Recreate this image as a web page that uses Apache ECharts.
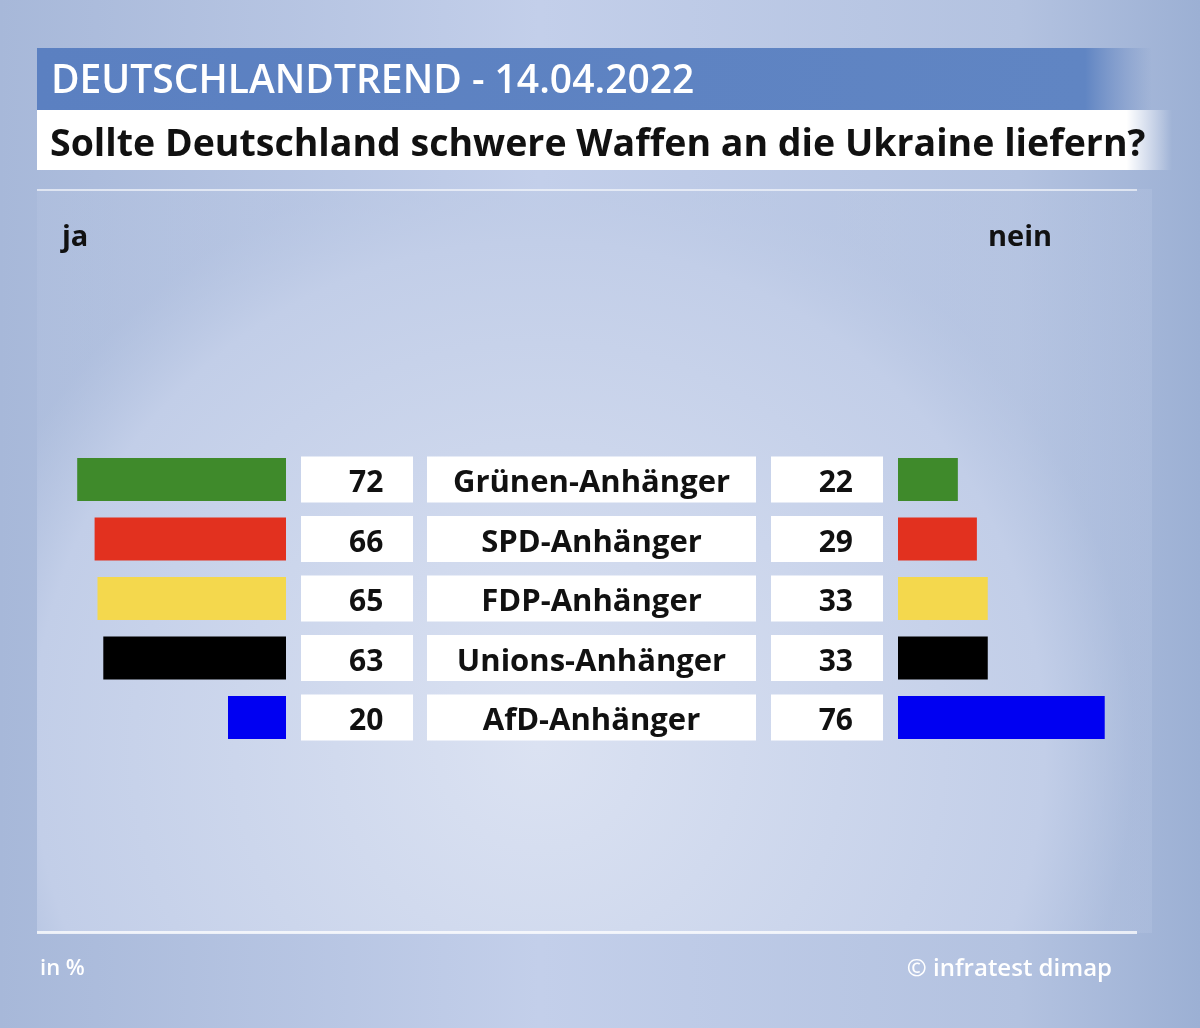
<!DOCTYPE html>
<html>
<head>
<meta charset="utf-8">
<title>DeutschlandTrend 14.04.2022</title>
<script src="https://cdn.jsdelivr.net/npm/echarts@6/dist/echarts.min.js"></script>
<style>
	html, body { margin: 0; padding: 0; }
	#main { width: 1200px; height: 1028px; }
</style>
</head>
<body>
<div id="main"></div>
<script>
// Daten aus der Grafik
var parteien = [ 'Grünen-Anhänger', 'SPD-Anhänger', 'FDP-Anhänger', 'Unions-Anhänger', 'AfD-Anhänger' ];
var ja = [ 72, 66, 65, 63, 20 ];
var nein = [ 22, 29, 33, 33, 76 ];
var farben = [ '#3f8a2b', '#e2311f', '#f4d84d', '#000000', '#0000f2' ];

var FONT = 'Open Sans';
var myChart = echarts.init(document.getElementById('main'));

function barData(values) {
	var arr = [];
	for ( var i = 0; i < values.length; i++) {
		arr.push({
			value : values[i],
			itemStyle : { color : farben[i] }
		});
	}
	return arr;
}

var option = {
	backgroundColor : {
		type : 'linear', x : 0, y : 0, x2 : 1, y2 : 0,
		colorStops : [ { offset : 0, color : '#a7b8d9' }, { offset : 0.45, color : '#c3cfea' },
				{ offset : 0.85, color : '#b3c2e0' }, { offset : 1, color : '#9cb0d4' } ]
	},
	graphic : [ {
		// heller Innenbereich
		type : 'rect',
		z : -10,
		shape : { x : 37, y : 189, width : 1115, height : 744 },
		style : {
			fill : {
				type : 'radial', x : 0.45, y : 0.75, r : 0.8,
				colorStops : [ { offset : 0, color : '#dbe2f2' }, { offset : 0.85, color : '#c2cee8' },
						{ offset : 1, color : 'rgba(186,200,228,0.3)' } ]
			}
		}
	}, {
		type : 'rect', z : -9,
		shape : { x : 37, y : 189, width : 1100, height : 2 },
		style : { fill : 'rgba(255,255,255,0.6)' }
	}, {
		type : 'rect', z : -9,
		shape : { x : 37, y : 931, width : 1100, height : 3 },
		style : { fill : 'rgba(255,255,255,0.75)' }
	}, {
		// blauer Kopfbalken
		type : 'rect', z : -5,
		shape : { x : 37, y : 48, width : 1115, height : 62 },
		style : {
			fill : {
				type : 'linear', x : 0, y : 0, x2 : 1, y2 : 0,
				colorStops : [ { offset : 0, color : '#5b80c1' }, { offset : 0.94, color : '#6085c3' },
						{ offset : 1, color : 'rgba(110,140,195,0)' } ]
			}
		}
	}, {
		// weisser Fragebalken
		type : 'rect', z : -5,
		shape : { x : 37, y : 110, width : 1135, height : 60 },
		style : {
			fill : {
				type : 'linear', x : 0, y : 0, x2 : 1, y2 : 0,
				colorStops : [ { offset : 0, color : '#ffffff' }, { offset : 0.96, color : '#ffffff' },
						{ offset : 1, color : 'rgba(255,255,255,0)' } ]
			}
		}
	} ],
	title : [ {
		text : 'DEUTSCHLANDTREND - 14.04.2022',
		left : 46, top : 57,
		textStyle : { color : '#ffffff', fontFamily : FONT, fontWeight : 600, fontSize : 39 }
	}, {
		text : 'Sollte Deutschland schwere Waffen an die Ukraine liefern?',
		left : 45, top : 121,
		textStyle : { color : '#111111', fontFamily : FONT, fontWeight : 'bold', fontSize : 37.5 }
	}, {
		text : 'ja',
		left : 57, top : 218,
		textStyle : { color : '#111111', fontFamily : FONT, fontWeight : 'bold', fontSize : 29 }
	}, {
		text : 'nein',
		left : 983, top : 218,
		textStyle : { color : '#111111', fontFamily : FONT, fontWeight : 'bold', fontSize : 29 }
	}, {
		text : 'in %',
		left : 35, top : 953,
		textStyle : { color : '#ffffff', fontFamily : FONT, fontWeight : 600, fontSize : 22 }
	}, {
		text : '© infratest dimap',
		right : 83, top : 952,
		textStyle : { color : '#ffffff', fontFamily : FONT, fontWeight : 600, fontSize : 24 }
	} ],
	grid : [ {
		left : 54, width : 232, top : 449.75, height : 297.5
	}, {
		left : 898, width : 272, top : 449.75, height : 297.5
	} ],
	xAxis : [ {
		gridIndex : 0, type : 'value', min : 0, max : 80, inverse : true, show : false
	}, {
		gridIndex : 1, type : 'value', min : 0, max : 100, show : false
	} ],
	yAxis : [ {
		gridIndex : 0,
		type : 'category',
		data : parteien,
		inverse : true,
		position : 'right',
		axisLine : { show : false },
		axisTick : { show : false },
		axisLabel : {
			interval : 0,
			margin : 15,
			fontFamily : FONT,
			fontWeight : 'bold',
			fontSize : 30,
			color : '#111111',
			formatter : function(v, i) {
				return '{n|' + ja[i] + '}{s|}{c|' + v + '}{t|}{m|' + nein[i] + '}';
			},
			rich : {
				n : { width : 64, height : 38, padding : [ 8, 0, 0, 48 ], backgroundColor : '#ffffff',
					fontFamily : FONT, fontWeight : 'bold', fontSize : 30, color : '#111' },
				s : { width : 14, height : 46 },
				c : { width : 329, height : 38, padding : [ 8, 0, 0, 0 ], align : 'center', backgroundColor : '#ffffff',
					fontFamily : FONT, fontWeight : 'bold', fontSize : 31, color : '#111' },
				t : { width : 15, height : 46, align : 'right' },
				m : { width : 82, height : 38, padding : [ 8, 30, 0, 0 ], align : 'right', backgroundColor : '#ffffff',
					fontFamily : FONT, fontWeight : 'bold', fontSize : 30, color : '#111' }
			}
		}
	}, {
		gridIndex : 1,
		type : 'category',
		data : parteien,
		inverse : true,
		show : false
	} ],
	series : [ {
		type : 'bar',
		name : 'ja',
		xAxisIndex : 0,
		yAxisIndex : 0,
		barWidth : 43,
		data : barData(ja)
	}, {
		type : 'bar',
		name : 'nein',
		xAxisIndex : 1,
		yAxisIndex : 1,
		barWidth : 43,
		data : barData(nein)
	} ]
};
myChart.setOption(option);
</script>
</body>
</html>
